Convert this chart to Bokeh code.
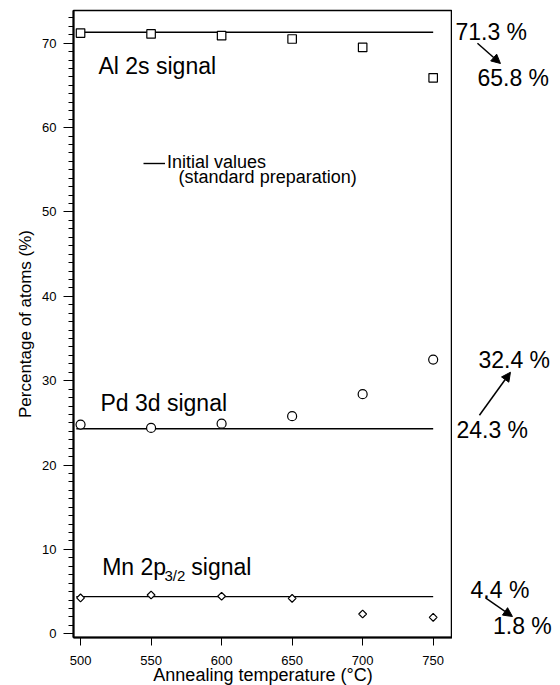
import numpy as np
from bokeh.plotting import figure
from bokeh.layouts import row
from bokeh.models import (Label, Arrow, NormalHead, Range1d, SingleIntervalTicker,
                          FixedTicker, Legend, LegendItem)
from bokeh.embed import file_html
from bokeh.resources import INLINE

# ---- data ----
temps = [500, 550, 600, 650, 700, 750]
al_2s = [71.2, 71.1, 70.9, 70.5, 69.5, 65.9]
pd_3d = [24.8, 24.4, 24.9, 25.8, 28.4, 32.5]
mn_2p = [4.25, 4.6, 4.45, 4.2, 2.35, 1.95]
initial_values = [71.3, 24.3, 4.4]
ref_span = [497, 750]
x_ticks = [500, 550, 600, 650, 700, 750]
change_from = ["71.3 %", "24.3 %", "4.4 %"]
change_to = ["65.8 %", "32.4 %", "1.8 %"]

FONT = "Liberation Sans"
X0, X1 = 495, 763.7
PX_PER_X = 1.41
Y0, Y1 = -0.44, 73.88
PX_PER_Y = 8.437

yr = Range1d(Y0, Y1)
p = figure(frame_width=379, frame_height=627,
           x_range=Range1d(X0, X1), y_range=yr,
           output_backend="svg", toolbar_location=None,
           min_border_left=73, min_border_top=10, min_border_right=0,
           min_border_bottom=40)
p.xgrid.visible = False
p.ygrid.visible = False
p.outline_line_color = "black"
p.outline_line_width = 1.5
p.outline_line_alpha = 1.0
p.background_fill_color = "white"
p.border_fill_color = "white"

# axes
for ax in (p.xaxis[0], p.yaxis[0]):
    ax.axis_line_width = 2
    ax.axis_line_color = "black"
    ax.major_tick_line_color = "black"
    ax.minor_tick_line_color = "black"
    ax.major_tick_in = 0
    ax.minor_tick_in = 0
    ax.major_label_text_color = "black"
    ax.major_label_text_font = FONT
    ax.major_label_text_font_size = "13px"
    ax.axis_label_text_font = FONT
    ax.axis_label_text_font_style = "normal"
    ax.axis_label_text_color = "black"

p.xaxis.ticker = FixedTicker(ticks=x_ticks)
p.xaxis.major_tick_out = 8
p.xaxis.minor_tick_out = 0
p.xaxis.major_label_standoff = 10
p.xaxis.axis_label = "Annealing temperature (°C)"
p.xaxis.axis_label_text_font_size = "18px"
p.xaxis.axis_label_standoff = -3

p.yaxis.ticker = SingleIntervalTicker(interval=10, num_minor_ticks=10)
p.yaxis.major_tick_out = 10
p.yaxis.minor_tick_out = 5
p.yaxis.major_label_standoff = 7
p.yaxis.axis_label = "Percentage of atoms (%)"
p.yaxis.axis_label_text_font_size = "17px"
p.yaxis.axis_label_standoff = 4

# reference (initial value) lines
ref_renderers = []
for v in initial_values:
    r = p.line(ref_span, [v, v], line_color="black", line_width=1.4)
    ref_renderers.append(r)

# measured points
p.scatter(temps, al_2s, marker="square", size=8.5, fill_color="white",
          line_color="black", line_width=1.2)
p.scatter(temps, pd_3d, marker="circle", size=9, fill_color="white",
          line_color="black", line_width=1.2)
p.scatter(temps, mn_2p, marker="square", angle=np.pi / 4, size=5.5,
          fill_color="white", line_color="black", line_width=1.2)

# legend for the reference line
legend = Legend(items=[LegendItem(label="Initial values", renderers=[ref_renderers[0]])],
                location=(70, 464), padding=0, margin=0, spacing=0,
                glyph_width=22, glyph_height=16, label_height=16, label_standoff=2,
                label_text_font=FONT, label_text_font_size="18px",
                label_text_color="black",
                background_fill_alpha=0, border_line_alpha=0)
p.add_layout(legend, "center")
p.add_layout(Label(x=569.5, y=54.1, text="(standard preparation)",
                   text_font=FONT, text_font_size="18px", text_color="black",
                   text_baseline="middle"))

# signal names
sig_style = dict(text_font=FONT, text_font_size="23px", text_color="black",
                 text_baseline="middle")
p.add_layout(Label(x=512.7, y=67.3, text="Al 2s signal", **sig_style))
p.add_layout(Label(x=514.1, y=27.3, text="Pd 3d signal", **sig_style))
p.add_layout(Label(x=515.3, y=7.9, text="Mn 2p", **sig_style))
p.add_layout(Label(x=559.5, y=6.9, text="3/2", text_font=FONT,
                   text_font_size="15px", text_color="black",
                   text_baseline="middle"))
p.add_layout(Label(x=578.5, y=7.9, text="signal", **sig_style))

# right-hand annotation strip on the same y scale (extended below for room)
EXTRA = 48
q = figure(frame_width=108, frame_height=627 + EXTRA,
           x_range=Range1d(X1, X1 + 108 / PX_PER_X),
           y_range=Range1d(Y0 - EXTRA / PX_PER_Y, Y1),
           output_backend="svg", toolbar_location=None,
           x_axis_location=None, y_axis_location=None,
           min_border_left=0, min_border_top=10, min_border_right=0,
           min_border_bottom=0)
q.xgrid.visible = False
q.ygrid.visible = False
q.outline_line_color = None
q.background_fill_color = "white"
q.border_fill_color = "white"

ann_style = dict(text_font=FONT, text_font_size="23px", text_color="black",
                 text_baseline="middle")
from_pos = [(765.8, 71.33), (766.5, 24.21), (776.5, 5.19)]
to_pos = [(781.4, 65.88), (782.1, 32.51), (792.4, 0.87)]
arrows = [((781.4, 70.0), (797.7, 67.6)),
          ((782.8, 25.9), (804.8, 31.0)),
          ((787.1, 4.25), (806.2, 2.05))]
for t, (x, y) in zip(change_from, from_pos):
    q.add_layout(Label(x=x, y=y, text=t, **ann_style))
for t, (x, y) in zip(change_to, to_pos):
    q.add_layout(Label(x=x, y=y, text=t, **ann_style))
for (xs, ys), (xe, ye) in arrows:
    q.add_layout(Arrow(end=NormalHead(size=9, fill_color="black", line_color="black"),
                       x_start=xs, y_start=ys, x_end=xe, y_end=ye,
                       line_color="black", line_width=1.5))

layout = row(p, q, spacing=0)
open("out.html", "w").write(file_html(layout, INLINE))
